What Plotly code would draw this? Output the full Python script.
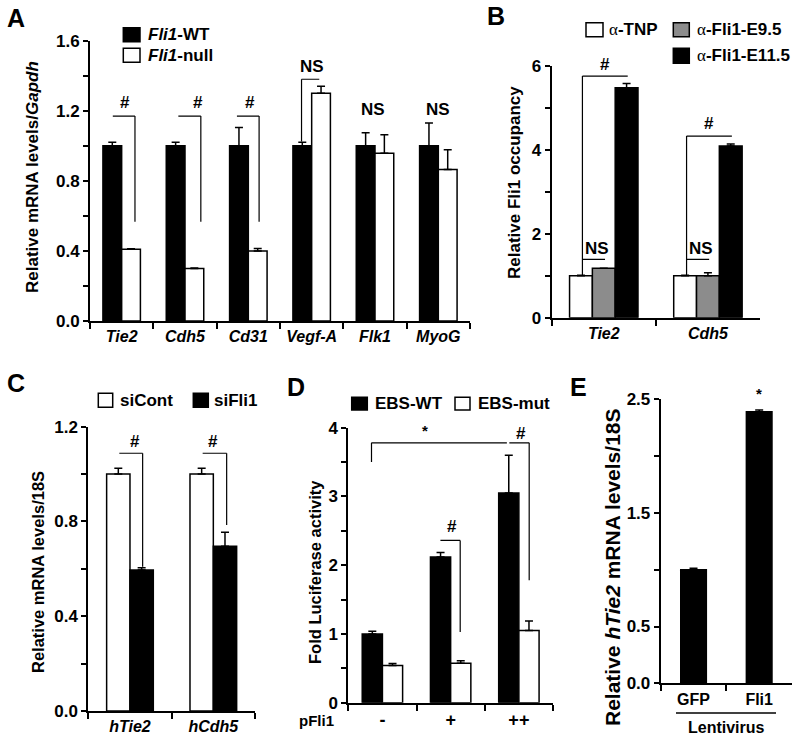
import plotly.graph_objects as go

W, H = 800, 743
FONT = "Liberation Sans, Arial, sans-serif"

# ---------------- data ----------------
# Panel A
a_genes = ["<i>Tie2</i>", "<i>Cdh5</i>", "<i>Cd31</i>", "<i>Vegf-A</i>", "<i>Flk1</i>", "<i>MyoG</i>"]
a_wt = [1.0, 1.0, 1.0, 1.0, 1.0, 1.0]
a_wt_err = [0.02, 0.02, 0.105, 0.02, 0.075, 0.13]
a_null = [0.41, 0.30, 0.40, 1.30, 0.957, 0.865]
a_null_err = [0.003, 0.003, 0.014, 0.04, 0.106, 0.112]
a_yticks = [0.0, 0.2, 0.4, 0.6, 0.8, 1.0, 1.2, 1.4, 1.6]
a_yticklabels = ["0.0", "", "0.4", "", "0.8", "", "1.2", "", "1.6"]

# Panel B
b_genes = ["<i>Tie2</i>", "<i>Cdh5</i>"]
b_tnp = [1.0, 1.0]
b_tnp_err = [0.01, 0.01]
b_e95 = [1.18, 1.0]
b_e95_err = [0.0, 0.07]
b_e115 = [5.48, 4.09]
b_e115_err = [0.1, 0.05]
b_yticks = [0, 1, 2, 3, 4, 5, 6]
b_yticklabels = ["0", "", "2", "", "4", "", "6"]

# Panel C
c_genes = ["<i>hTie2</i>", "<i>hCdh5</i>"]
c_sicont = [1.0, 1.0]
c_sicont_err = [0.025, 0.025]
c_sifli1 = [0.595, 0.695]
c_sifli1_err = [0.01, 0.06]
c_yticks = [0.0, 0.2, 0.4, 0.6, 0.8, 1.0, 1.2]
c_yticklabels = ["0.0", "", "0.4", "", "0.8", "", "1.2"]

# Panel D
d_cats = ["-", "+", "++"]
d_wt = [1.0, 2.12, 3.05]
d_wt_err = [0.04, 0.065, 0.55]
d_mut = [0.54, 0.575, 1.05]
d_mut_err = [0.03, 0.035, 0.14]
d_yticks = [0, 0.5, 1, 1.5, 2, 2.5, 3, 3.5, 4]
d_yticklabels = ["0", "", "1", "", "2", "", "3", "", "4"]

# Panel E
e_cats = ["GFP", "Fli1"]
e_vals = [1.0, 2.39]
e_err = [0.012, 0.015]
e_yticks = [0.0, 0.5, 1.0, 1.5, 2.0, 2.5]
e_yticklabels = ["0.0", "0.5", "", "1.5", "", "2.5"]

# ---------------- helpers ----------------
def px(x):
    return x / W


def py(y):
    return 1 - y / H


fig = go.Figure()


def err(arr):
    return dict(type="data", array=arr, arrayminus=[0] * len(arr), symmetric=False,
                color="black", thickness=1.5, width=4)


def add_bar(cats, vals, errs, xa, ya, center, width, color):
    fig.add_trace(go.Bar(
        x=cats, y=vals, xaxis=xa, yaxis=ya, width=width, offset=center - width / 2,
        marker=dict(color=color, line=dict(color="black", width=1.5)),
        error_y=err(errs), showlegend=False, hoverinfo="x+y"))


# Panel A bars
add_bar(a_genes, a_wt, a_wt_err, "x", "y", -0.148, 0.296, "black")
add_bar(a_genes, a_null, a_null_err, "x", "y", 0.148, 0.296, "white")
# Panel B bars
bw = 0.219
add_bar(b_genes, b_tnp, b_tnp_err, "x2", "y2", -bw, bw, "white")
add_bar(b_genes, b_e95, b_e95_err, "x2", "y2", 0.0, bw, "#8c8c8c")
add_bar(b_genes, b_e115, b_e115_err, "x2", "y2", bw, bw, "black")
# Panel C bars
add_bar(c_genes, c_sicont, c_sicont_err, "x3", "y3", -0.14, 0.28, "white")
add_bar(c_genes, c_sifli1, c_sifli1_err, "x3", "y3", 0.14, 0.28, "black")
# Panel D bars
add_bar(d_cats, d_wt, d_wt_err, "x4", "y4", -0.148, 0.296, "black")
add_bar(d_cats, d_mut, d_mut_err, "x4", "y4", 0.148, 0.296, "white")
# Panel E bars
add_bar(e_cats, e_vals, e_err, "x5", "y5", 0.0, 0.39, "black")

# ---------------- axes ----------------
def yaxis(top, bottom, rng, tv, tt, anchor, tsize):
    return dict(domain=[py(bottom), py(top)], range=rng, anchor=anchor,
                tickvals=tv, ticktext=tt, ticks="outside", ticklen=5, tickwidth=2,
                tickcolor="black", showline=True, linewidth=2, linecolor="black",
                showgrid=False, zeroline=False, automargin=False,
                tickfont=dict(family=FONT, size=tsize, color="black", weight="bold"))


def xaxis(left, right, n, anchor, tsize):
    return dict(domain=[px(left), px(right)], range=[-0.5, n - 0.5], anchor=anchor,
                type="category", tickson="boundaries", ticks="outside", ticklen=6,
                tickwidth=2, tickcolor="black", showline=True, linewidth=2,
                linecolor="black", showgrid=False, zeroline=False, automargin=False,
                tickfont=dict(family=FONT, size=tsize, color="black", weight="bold"))


fig.update_layout(
    xaxis=xaxis(90, 470, 6, "y", 16),
    yaxis=yaxis(40.7, 321, [0, 1.6], a_yticks, a_yticklabels, "x", 17),
    xaxis2=xaxis(551.7, 760, 2, "y2", 16),
    yaxis2=yaxis(66, 317.7, [0, 6], b_yticks, b_yticklabels, "x2", 17),
    xaxis3=xaxis(88.3, 255, 2, "y3", 16),
    yaxis3=yaxis(426.7, 711, [0, 1.2], c_yticks, c_yticklabels, "x3", 17),
    xaxis4=xaxis(348.3, 553, 3, "y4", 18),
    yaxis4=yaxis(427.7, 702.7, [0, 4], d_yticks, d_yticklabels, "x4", 17),
    xaxis5=xaxis(660.7, 792, 2, "y5", 16),
    yaxis5=yaxis(399.3, 683.3, [0, 2.5], e_yticks, e_yticklabels, "x5", 17),
)

# ---------------- significance brackets ----------------
shapes = []


def seg(xa, ya, x0, y0, x1, y1):
    shapes.append(dict(type="line", xref=xa, yref=ya, x0=x0, y0=y0, x1=x1, y1=y1,
                       line=dict(color="black", width=1.2)))


annos = []


def txt(xa, ya, x, y, t, size=17, yshift=0):
    annos.append(dict(xref=xa, yref=ya, x=x, y=y, text=t, showarrow=False,
                      xanchor="center", yanchor="middle", yshift=yshift,
                      font=dict(family=FONT, size=size, color="black", weight="bold")))


# A
for (l, r, xt) in [(-0.14, 0.21, 0.05), (0.895, 1.25, 1.21), (1.82, 2.17, 2.03)]:
    seg("x", "y", l, 1.17, r, 1.17)
    seg("x", "y", r, 1.17, r, 0.567)
    txt("x", "y", xt, 1.25, "#")
seg("x", "y", 2.84, 1.024, 2.84, 1.38)
seg("x", "y", 2.84, 1.38, 3.12, 1.38)
txt("x", "y", 3.0, 1.45, "NS")
txt("x", "y", 3.97, 1.21, "NS")
txt("x", "y", 5.0, 1.21, "NS")
# B
for (c, top, xt, yt, ys) in [(0, 5.76, 0.016, 6.0, 2), (1, 4.33, 1.014, 4.63, 0)]:
    l = c - 0.205
    seg("x2", "y2", l, 1.0, l, top)
    seg("x2", "y2", l, top, c + 0.23, top)
    seg("x2", "y2", l, 1.39, c + 0.012, 1.39)
    txt("x2", "y2", xt, yt, "#", yshift=ys)
    txt("x2", "y2", c - 0.062, 1.65, "NS")
# C
for (l, r, bot, xt) in [(-0.128, 0.152, 0.609, 0.06), (0.872, 1.16, 0.785, 1.0)]:
    seg("x3", "y3", l, 1.088, r, 1.088)
    seg("x3", "y3", r, 1.088, r, bot)
    txt("x3", "y3", xt, 1.137, "#")
# D
seg("x4", "y4", -0.16, 3.50, -0.16, 3.78)
seg("x4", "y4", -0.16, 3.78, 1.824, 3.78)
txt("x4", "y4", 0.62, 3.96, "*", 15)
seg("x4", "y4", 1.86, 3.78, 2.151, 3.78)
seg("x4", "y4", 2.151, 3.78, 2.151, 1.78)
txt("x4", "y4", 2.03, 3.92, "#")
seg("x4", "y4", 0.85, 2.36, 1.14, 2.36)
seg("x4", "y4", 1.14, 2.36, 1.14, 1.03)
txt("x4", "y4", 1.02, 2.56, "#")
# E
txt("x5", "y5", 1.0, 2.5, "*", 15, yshift=6)

# ---------------- legends (manual) ----------------
def legend_item(x0, y0, x1, y1, color, label, tx, size=17):
    shapes.append(dict(type="rect", xref="paper", yref="paper",
                       x0=px(x0), x1=px(x1), y0=py(y1), y1=py(y0),
                       fillcolor=color, line=dict(color="black", width=1.5)))
    annos.append(dict(xref="paper", yref="paper", x=px(tx), y=py((y0 + y1) / 2),
                      text=label, showarrow=False, xanchor="left", yanchor="middle",
                      font=dict(family=FONT, size=size, color="black", weight="bold")))


ALPHA = "<span style='font-family:Liberation Serif;font-weight:normal'>α</span>"
legend_item(123.3, 27.7, 140, 41.7, "black", "<i>Fli1</i>-WT", 146)
legend_item(123.3, 48.3, 140, 62.3, "white", "<i>Fli1</i>-null", 146)
legend_item(586, 22.7, 603, 36.7, "white", ALPHA + "-TNP", 607)
legend_item(673.3, 22.7, 689.3, 36.7, "#8c8c8c", ALPHA + "-Fli1-E9.5", 695)
legend_item(673.3, 48.3, 689.3, 63.3, "black", ALPHA + "-Fli1-E11.5", 695)
legend_item(98.3, 393.3, 112.7, 407.3, "white", "siCont", 118)
legend_item(193.3, 393.3, 208.3, 407.3, "black", "siFli1", 212)
legend_item(351.7, 397.3, 367.3, 410, "black", "EBS-WT", 373)
legend_item(455, 397.3, 470, 410, "white", "EBS-mut", 476)

# ---------------- extra labels ----------------
def ptxt(x, y, t, size, angle=0):
    annos.append(dict(xref="paper", yref="paper", x=px(x), y=py(y), text=t,
                      showarrow=False, xanchor="center", yanchor="middle", textangle=angle,
                      font=dict(family=FONT, size=size, color="black", weight="bold")))


# y-axis titles
ptxt(32, 177, "Relative mRNA levels/<i>Gapdh</i>", 17, -90)
ptxt(514, 183, "Relative Fli1 occupancy", 17, -90)
ptxt(38, 572, "Relative mRNA levels/18S", 16.5, -90)
ptxt(315, 572, "Fold Luciferase activity", 16.5, -90)
ptxt(612, 567, "Relative <i>hTie2</i> mRNA levels/18S", 21, -90)

for (x, y, t) in [(16, 18, "A"), (496, 16, "B"), (16, 383, "C"), (296, 387, "D"), (578, 387, "E")]:
    ptxt(x, y, t, 25)
ptxt(316, 720, "pFli1", 15)
ptxt(726, 727, "Lentivirus", 16)
shapes.append(dict(type="line", xref="paper", yref="paper", x0=px(676), x1=px(776),
                   y0=py(713), y1=py(713), line=dict(color="black", width=1.5)))

fig.update_layout(
    width=W, height=H, margin=dict(l=0, r=0, t=0, b=0),
    paper_bgcolor="white", plot_bgcolor="white", barmode="overlay",
    showlegend=False, shapes=shapes, annotations=annos,
    font=dict(family=FONT, color="black"),
)

fig.write_html("out.html", config={"displayModeBar": False},
               post_script="document.body.style.margin='0px';")
